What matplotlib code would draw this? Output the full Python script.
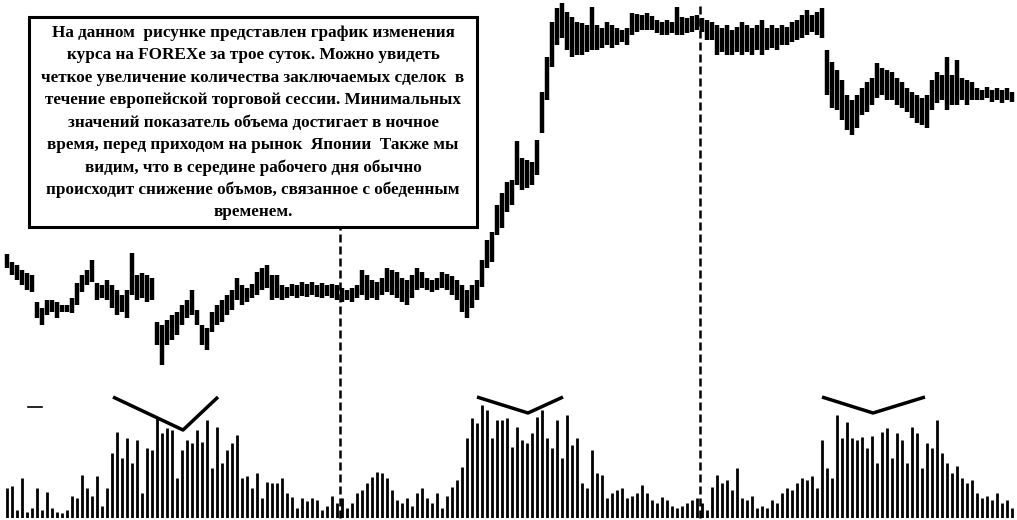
import matplotlib
matplotlib.use("Agg")
import matplotlib.pyplot as plt
import numpy as np
from matplotlib.patches import Rectangle

# ---- data (price in pips relative to an arbitrary base, volume in lots) ----
bar_high = [106, 98, 95, 90, 87, 85, 58, 52, 60, 60,
            58, 55, 55, 62, 77, 85, 90, 100, 77, 75,
            80, 75, 70, 65, 70, 107, 85, 87, 85, 82,
            38, 35, 40, 45, 48, 55, 60, 70, 50, 35,
            32, 48, 55, 60, 65, 70, 82, 75, 72, 76,
            88, 92, 95, 85, 85, 75, 73, 76, 75, 78,
            76, 78, 75, 77, 75, 76, 75, 72, 70, 72,
            75, 90, 85, 80, 78, 82, 92, 90, 88, 82,
            80, 85, 92, 88, 82, 80, 82, 88, 86, 84,
            80, 75, 70, 75, 80, 100, 120, 128, 155, 167,
            178, 180, 219, 202, 200, 198,
            220, 268, 303, 338, 352, 357, 348, 343, 338, 337,
            335, 353, 335, 332, 338, 335, 332, 330, 332, 347,
            346, 345, 347, 344, 340, 338, 340, 338, 353, 343,
            342, 344, 345, 342, 340, 338, 335, 332, 335, 330,
            333, 338, 335, 332, 335, 340, 332, 335, 332, 335,
            333, 338, 340, 345, 350, 345, 348, 352, 310, 298,
            290, 280, 265, 260, 265, 272, 278, 282, 297, 292,
            290, 288, 282, 278, 272, 268, 265, 262, 265, 280,
            288, 285, 303, 285, 300, 282, 280, 278, 272, 270,
            273, 270, 272, 270, 272, 268]

bar_low = [92, 85, 80, 75, 70, 68, 42, 35, 45, 48,
           42, 48, 48, 47, 55, 68, 75, 78, 60, 62,
           60, 52, 45, 48, 42, 65, 60, 62, 58, 60,
           15, -5, 15, 20, 25, 35, 42, 45, 35, 15,
           10, 28, 35, 38, 45, 50, 60, 55, 58, 62,
           65, 70, 72, 60, 62, 60, 62, 64, 62, 64,
           63, 65, 63, 62, 64, 62, 60, 58, 60, 58,
           62, 65, 60, 62, 60, 65, 68, 65, 62, 58,
           55, 62, 70, 72, 70, 68, 70, 72, 70, 65,
           60, 48, 42, 52, 60, 73, 92, 98, 125, 132,
           148, 155, 175, 170, 172, 175,
           185, 227, 260, 293, 315, 322, 310, 303, 305, 305,
           308, 310, 310, 312, 315, 312, 315, 318, 315, 325,
           328, 330, 330, 330, 327, 325, 325, 327, 325, 325,
           327, 328, 330, 328, 320, 320, 305, 308, 305, 305,
           308, 305, 308, 305, 310, 305, 310, 312, 310, 315,
           315, 318, 320, 322, 325, 328, 325, 322, 265, 252,
           250, 240, 230, 225, 232, 245, 248, 255, 262, 265,
           260, 260, 255, 252, 248, 242, 237, 235, 232, 250,
           257, 260, 250, 255, 255, 260, 255, 260, 260, 260,
           262, 258, 260, 257, 260, 258]

volume = [30, 32, 8, 40, 6, 10, 30, 8, 26, 10,
          6, 5, 8, 22, 20, 43, 30, 22, 42, 12,
          30, 65, 86, 60, 80, 55, 78, 25, 70, 68,
          100, 85, 90, 88, 40, 68, 78, 75, 88, 76,
          98, 50, 91, 55, 68, 75, 83, 40, 42, 30,
          45, 20, 36, 35, 35, 40, 25, 21, 10, 20,
          17, 20, 18, 8, 12, 22, 15, 20, 10, 15,
          25, 28, 35, 41, 46, 45, 40, 28, 18, 15,
          20, 12, 25, 30, 20, 15, 25, 10, 22, 31,
          38, 51, 80, 100, 95, 113, 108, 80, 98, 98,
          100, 71, 91, 78, 75, 85, 101, 108, 80, 70,
          98, 60, 103, 73, 80, 35, 30, 68, 45, 43,
          20, 25, 28, 30, 20, 22, 25, 33, 25, 18,
          15, 21, 18, 12, 10, 12, 15, 18, 20, 15,
          8, 31, 43, 35, 38, 28, 50, 20, 18, 22,
          10, 12, 10, 18, 15, 25, 30, 28, 35, 40,
          38, 42, 30, 78, 50, 40, 103, 80, 96, 80,
          78, 81, 70, 82, 55, 86, 90, 60, 85, 78,
          55, 91, 85, 50, 75, 70, 98, 65, 55, 45,
          52, 40, 35, 38, 25, 20, 22, 18, 25, 15,
          18, 10]

note_lines = [
    "На данном  рисунке представлен график изменения",
    "курса на FOREXе за трое суток. Можно увидеть",
    "четкое увеличение количества заключаемых сделок  в",
    "течение европейской торговой сессии. Минимальных",
    "значений показатель объема достигает в ночное",
    "время, перед приходом на рынок  Японии  Также мы",
    "видим, что в середине рабочего дня обычно",
    "происходит снижение объмов, связанное с обеденным",
    "временем.",
]

# ---- figure ----
W, H = 1017, 520
fig = plt.figure(figsize=(W / 100, H / 100), dpi=100)
fig.patch.set_facecolor("white")

n = len(bar_high)
idx = np.arange(n)
XLIM = (-1.4, 202.0)

# price panel
ax = fig.add_axes([0, 0, 1, 1])
ax.set_xlim(*XLIM)
ax.set_ylim(-160, 360)
ax.axis("off")
ax.vlines(idx, bar_low, bar_high, color="black", linewidth=3.2)

# session separators (dashed)
ax.axvline(66.6, ymin=0.004, ymax=0.5615, color="black", lw=1.8, dashes=(3.2, 1.6))
ax.axvline(138.6, ymin=0.004, ymax=0.994, color="black", lw=1.8, dashes=(3.2, 1.6))

# volume panel
axv = fig.add_axes([0, 2 / H, 1, 123 / H])
axv.set_xlim(*XLIM)
axv.set_ylim(0, 123)
axv.axis("off")
axv.vlines(idx, 0, volume, color="black", linewidth=2.0)

# "lunch dip" markers above volume peaks
for xs, ys in [([21.2, 35.2, 42.2], [121, 88, 121]),
               ([94.0, 104.2, 111.2], [121, 105, 121]),
               ([163.0, 173.2, 183.6], [121, 105, 121])]:
    axv.plot(xs, ys, color="black", lw=2.5, solid_capstyle="butt")
axv.plot([4.2, 7.0], [111, 111], color="black", lw=1.2)

# annotation box
fig.patches.append(Rectangle((29 / W, 1 - 227 / H), (477 - 29) / W, (227 - 17) / H,
                             transform=fig.transFigure, fill=False,
                             edgecolor="black", linewidth=2.2))
for k, line in enumerate(note_lines):
    fig.text(253 / W, 1 - (33 + 22.4 * k) / H, line, ha="center", va="center",
             fontsize=12.3, fontweight="bold", family=["Liberation Serif", "DejaVu Serif"])

fig.savefig("out.png", dpi=100, facecolor="white")
